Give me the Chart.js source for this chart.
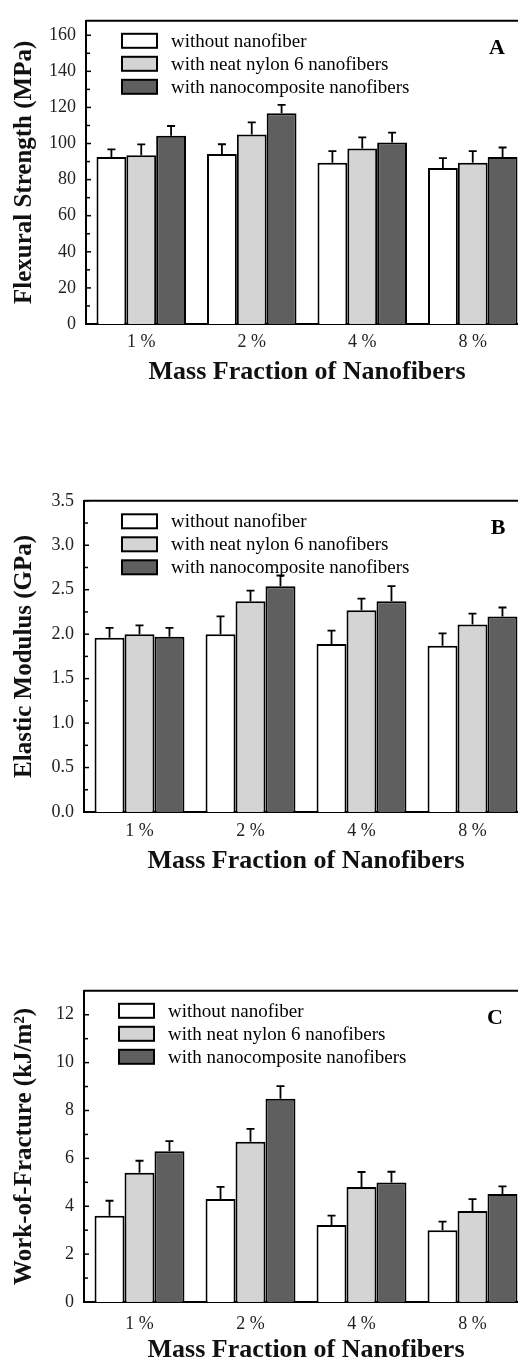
<!DOCTYPE html>
<html>
<head>
<meta charset="utf-8">
<script src="https://cdn.jsdelivr.net/npm/chart.js@4"></script>
<style>
  html, body { margin: 0; padding: 0; background: #fff; overflow: hidden; }
  body { width: 518px; height: 1359px; position: relative; }
  canvas { position: absolute; left: 0; }
</style>
</head>
<body>
<canvas id="chartA" width="528" height="392" style="top:0px"></canvas>
<canvas id="chartB" width="528" height="395" style="top:480px"></canvas>
<canvas id="chartC" width="528" height="395" style="top:970px"></canvas>
<script>
// categories and series
const categories = ['1 %', '2 %', '4 %', '8 %'];
const seriesNames = ['without nanofiber', 'with neat nylon 6 nanofibers', 'with nanocomposite nanofibers'];
const seriesColors = ['#ffffff', '#d4d4d4', '#5f5f5f'];

// A: flexural strength (MPa)
const strengthPlain = [92.6, 94.2, 89.4, 86.5];
const strengthNeat = [93.5, 105.0, 97.3, 89.4];
const strengthNano = [104.3, 116.8, 100.5, 92.6];
const strengthPlainErr = [4.2, 5.4, 6.4, 5.4];
const strengthNeatErr = [6.0, 6.7, 6.1, 6.4];
const strengthNanoErr = [5.4, 4.6, 5.5, 5.2];

// B: elastic modulus (GPa)
const modulusPlain = [1.96, 2.00, 1.89, 1.87];
const modulusNeat = [2.00, 2.37, 2.27, 2.11];
const modulusNano = [1.97, 2.54, 2.37, 2.20];
const modulusPlainErr = [0.11, 0.20, 0.15, 0.14];
const modulusNeatErr = [0.10, 0.12, 0.13, 0.12];
const modulusNanoErr = [0.10, 0.12, 0.17, 0.10];

// C: work-of-fracture (kJ/m2)
const workPlain = [3.6, 4.3, 3.22, 3.0];
const workNeat = [5.4, 6.69, 4.8, 3.8];
const workNano = [6.3, 8.49, 4.99, 4.51];
const workPlainErr = [0.63, 0.51, 0.39, 0.36];
const workNeatErr = [0.50, 0.54, 0.63, 0.50];
const workNanoErr = [0.42, 0.53, 0.45, 0.32];

const SERIF = "'Liberation Serif', 'Times New Roman', serif";

// error bars, frame, minor ticks, legend and panel letter
const decorPlugin = {
    id: 'decor',
    afterDatasetsDraw(chart, args, opts) {
        const ctx = chart.ctx;
        const y = chart.scales.y;
        const area = chart.chartArea;
        ctx.save();
        ctx.strokeStyle = '#000';

        // error bars
        ctx.lineWidth = 1.8;
        chart.data.datasets.forEach((ds, i) => {
            const meta = chart.getDatasetMeta(i);
            meta.data.forEach((bar, j) => {
                const top = y.getPixelForValue(ds.data[j] + ds.errors[j]);
                ctx.beginPath();
                ctx.moveTo(bar.x, bar.y);
                ctx.lineTo(bar.x, top);
                ctx.moveTo(bar.x - 4, top);
                ctx.lineTo(bar.x + 4, top);
                ctx.stroke();
            });
        });

        // top frame line
        ctx.lineWidth = 2;
        ctx.beginPath();
        ctx.moveTo(area.left, area.top);
        ctx.lineTo(area.right, area.top);
        ctx.stroke();

        // inside ticks on the y axis
        ctx.lineWidth = 1.5;
        for (let v = 0; v <= opts.tickMax + 1e-9; v += opts.minorStep) {
            const py = y.getPixelForValue(v);
            const major = Math.abs(v / opts.majorStep - Math.round(v / opts.majorStep)) < 1e-6;
            ctx.beginPath();
            ctx.moveTo(area.left, py);
            ctx.lineTo(area.left + (major ? 5 : 4), py);
            ctx.stroke();
        }

        // legend
        ctx.font = '19px ' + SERIF;
        ctx.textBaseline = 'middle';
        ctx.textAlign = 'left';
        chart.data.datasets.forEach((ds, i) => {
            const cy = area.top + opts.legendTop + i * 23;
            ctx.fillStyle = ds.backgroundColor;
            ctx.fillRect(opts.boxX, cy - 7, 35, 14);
            ctx.lineWidth = 2;
            ctx.strokeRect(opts.boxX, cy - 7, 35, 14);
            ctx.fillStyle = '#000';
            ctx.fillText(ds.label, opts.boxX + 49, cy + 1);
        });

        // panel letter
        ctx.font = 'bold 22px ' + SERIF;
        ctx.textAlign = 'center';
        ctx.fillText(opts.letter, opts.letterX, area.top + 28);
        ctx.restore();
    }
};

function makeChart(id, values, errors, p) {
    return new Chart(id, {
        type: 'bar',
        data: {
            labels: categories,
            datasets: values.map((vals, i) => ({
                label: seriesNames[i],
                data: vals,
                errors: errors[i],
                backgroundColor: seriesColors[i],
                borderColor: '#000',
                borderWidth: 2,
                categoryPercentage: 0.81,
                barPercentage: 1.0
            }))
        },
        options: {
            responsive: false,
            animation: false,
            devicePixelRatio: 1,
            layout: { padding: { top: p.padTop, right: 0, left: 0, bottom: 0 } },
            plugins: {
                legend: { display: false },
                tooltip: { enabled: false },
                decor: p
            },
            scales: {
                x: {
                    grid: { display: false, drawTicks: false },
                    border: { display: true, color: '#000', width: 2 },
                    ticks: { color: '#222', padding: p.tickPad, font: { family: SERIF, size: 18 } },
                    title: {
                        display: true, text: 'Mass Fraction of Nanofibers', color: '#111',
                        font: { family: SERIF, size: 26, weight: 'bold', lineHeight: 1.0 },
                        padding: { top: 0, bottom: p.titlePad }
                    },
                    afterFit: s => { s.height = p.xHeight; }
                },
                y: {
                    min: 0, max: p.max,
                    grid: { display: false, drawTicks: false },
                    border: { display: true, color: '#000', width: 2 },
                    ticks: {
                        stepSize: p.majorStep, padding: 10, color: '#222',
                        font: { family: SERIF, size: 18 },
                        callback: v => p.decimals ? v.toFixed(p.decimals) : v
                    },
                    afterBuildTicks: s => {
                        const ticks = [];
                        const n = Math.round(p.tickMax / p.majorStep);
                        for (let k = 0; k <= n; k++) ticks.push({ value: +(k * p.majorStep).toFixed(4) });
                        s.ticks = ticks;
                    },
                    title: {
                        display: true, text: p.yTitle, color: '#111',
                        font: { family: SERIF, size: 25, weight: 'bold', lineHeight: 1.2 },
                        padding: { top: 10, bottom: 0 }
                    },
                    afterFit: s => { s.width = p.yWidth; }
                }
            }
        },
        plugins: [decorPlugin]
    });
}

makeChart('chartA',
    [strengthPlain, strengthNeat, strengthNano],
    [strengthPlainErr, strengthNeatErr, strengthNanoErr],
    { padTop: 12, xHeight: 68, tickPad: 7, titlePad: 7, yWidth: 86, max: 168, tickMax: 160,
      majorStep: 20, minorStep: 10, decimals: 0, yTitle: 'Flexural Strength (MPa)',
      legendTop: 20, boxX: 122, letter: 'A', letterX: 497 });

makeChart('chartB',
    [modulusPlain, modulusNeat, modulusNano],
    [modulusPlainErr, modulusNeatErr, modulusNanoErr],
    { padTop: 18, xHeight: 63, tickPad: 8, titlePad: 1, yWidth: 84, max: 3.5, tickMax: 3.5,
      majorStep: 0.5, minorStep: 0.25, decimals: 1, yTitle: 'Elastic Modulus (GPa)',
      legendTop: 20.5, boxX: 122, letter: 'B', letterX: 498 });

makeChart('chartC',
    [workPlain, workNeat, workNano],
    [workPlainErr, workNeatErr, workNanoErr],
    { padTop: 19, xHeight: 63, tickPad: 11, titlePad: 2, yWidth: 84, max: 13, tickMax: 12,
      majorStep: 2, minorStep: 1, decimals: 0, yTitle: 'Work-of-Fracture (kJ/m\u00B2)',
      legendTop: 20, boxX: 119, letter: 'C', letterX: 495 });
</script>
</body>
</html>
